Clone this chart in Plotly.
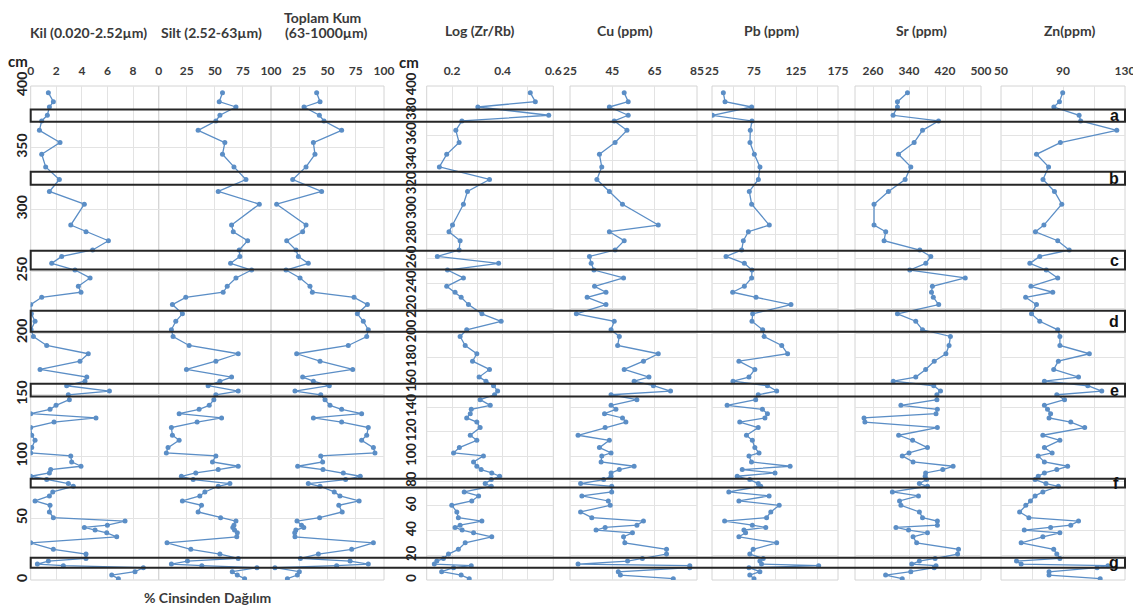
import plotly.graph_objects as go

OFF = 8                      # page body margin of the html page
W, H = 1141 - OFF, 610 - OFF


def px(x):
    return (x - OFF) / W


def py(y):
    return 1 - (y - OFF) / H


# ---------------- data ----------------
depth_cm = [394.6, 387.3, 383.0, 376.3, 371.7, 364.1, 354.2, 344.7, 334.5, 324.3,
            314.6, 304.3, 287.4, 282.0, 274.7, 267.2, 262.0, 256.4, 251.0, 244.6,
            237.8, 233.0, 228.9, 223.0, 215.5, 209.5, 202.6,
            197.2, 189.9, 183.2, 177.2, 170.5, 164.3, 161.0, 157.3, 153.0, 150.0,
            146.0, 141.4, 138.2, 134.7, 131.2, 127.9, 123.4, 117.2, 113.1, 107.2,
            102.9, 100.5, 95.6, 92.1, 89.4, 86.7, 84.0, 81.3, 78.1, 75.9,
            71.3, 68.1, 64.0, 60.5, 55.1, 50.5, 47.7, 44.4, 42.6, 40.4,
            38.2, 35.0, 30.1, 24.8, 21.0, 17.5, 15.3, 12.9, 11.6, 10.0,
            6.7, 4.0, 1.1]

kil = [1.38, 1.77, 1.46, 1.30, 0.86, 0.68, 2.29, 0.86, 1.17, 2.24,
       1.46, 4.19, 3.13, 4.32, 6.07, 4.84, 2.42, 1.64, 3.46, 4.64,
       3.72, 3.93, 0.86, 0.0, 0.05, 0.34, 0.03,
       0.21, 1.25, 4.5, 3.85, 0.73, 4.38, 4.24, 2.81, 6.15, 2.94,
       3.02, 1.98, 1.51, 0.0, 5.1, 1.82, 0.0, 0.08, 0.34, 0.08,
       0.0, 3.13, 3.2, 3.93, 1.56, 1.46, 0.0, 1.25, 2.94, 3.33,
       1.72, 1.46, 0.34, 1.51, 1.46, 1.77, 7.37, 5.99, 4.19, 5.03,
       5.94, 6.72, 0.0, 1.77, 4.32, 4.32, 1.38, 0.52, 2.55, 8.8,
       8.15, 6.33, 6.85]

silt = [56.8, 53.9, 68.8, 54.5, 50.9, 35.1, 58.9, 56.8, 67.0, 77.7,
        53.0, 89.6, 64.9, 66.4, 79.2, 71.7, 72.3, 64.0, 82.7, 68.8,
        61.0, 57.4, 24.1, 12.2, 21.1, 15.2, 11.3,
        12.8, 27.1, 70.8, 50.9, 24.7, 64.9, 54.5, 44.0, 70.8, 50.9,
        49.1, 45.0, 36.0, 18.2, 56.0, 34.2, 11.3, 12.2, 18.2, 8.3,
        6.8, 50.9, 47.9, 70.8, 53.0, 33.0, 20.2, 30.7, 63.4, 53.0,
        41.1, 36.6, 21.1, 38.1, 35.1, 55.1, 68.8, 67.0, 66.0, 67.5,
        70.0, 69.5, 7.4, 28.6, 54.5, 70.8, 25.6, 11.3, 38.4, 87.5,
        65.5, 70.0, 76.5]

toplam_kum = [40.4, 43.4, 29.2, 42.8, 46.9, 62.5, 37.5, 38.9, 31.0, 19.2,
              44.8, 5.0, 31.0, 28.0, 13.9, 22.1, 24.2, 33.0, 13.3, 25.7,
              34.5, 36.6, 73.5, 85.3, 76.4, 81.7, 86.1,
              84.7, 68.4, 22.7, 43.4, 72.3, 28.0, 37.5, 51.6, 21.2, 44.0,
              47.8, 52.2, 62.5, 80.2, 37.5, 62.5, 86.1, 84.7, 80.2, 90.6,
              92.0, 44.0, 45.7, 23.6, 46.0, 64.0, 79.0, 66.0, 33.0, 43.4,
              56.0, 61.0, 78.0, 60.0, 63.0, 43.0, 23.0, 27.0, 29.0, 22.0,
              21.0, 21.2, 90.6, 71.4, 41.9, 26.0, 70.0, 86.1, 58.1, 3.5,
              25.1, 23.3, 14.5]

log_zr_rb = [0.509, 0.529, 0.302, 0.582, 0.239, 0.215, 0.228, 0.179, 0.150, 0.348,
             0.261, 0.245, 0.202, 0.188, 0.232, 0.228, 0.142, 0.384, 0.182, 0.245,
             0.179, 0.212, 0.236, 0.265, 0.318, 0.394, 0.258,
             0.232, 0.252, 0.298, 0.281, 0.348, 0.307, 0.334, 0.364, 0.380, 0.368,
             0.311, 0.351, 0.276, 0.272, 0.258, 0.298, 0.311, 0.272, 0.298, 0.229,
             0.206, 0.324, 0.285, 0.298, 0.315, 0.357, 0.388, 0.355, 0.331, 0.355,
             0.248, 0.305, 0.278, 0.199, 0.219, 0.225, 0.318, 0.232, 0.212, 0.240,
             0.285, 0.357, 0.252, 0.225, 0.186, 0.166, 0.140, 0.130, 0.276, 0.206,
             0.159, 0.236, 0.268]

cu = [50.6, 52.5, 43.6, 52.5, 45.9, 51.9, 46.3, 38.9, 40.0, 37.7,
      43.6, 49.8, 66.7, 43.6, 50.6, 46.3, 34.2, 35.0, 36.3, 50.3,
      36.6, 42.0, 33.1, 42.0, 28.0, 45.9, 44.4,
      48.3, 47.5, 66.7, 59.7, 50.6, 62.3, 55.3, 64.4, 72.5, 44.4,
      56.6, 44.4, 46.7, 41.3, 49.8, 51.4, 41.6, 28.8, 43.6, 38.9,
      44.4, 40.0, 39.7, 55.3, 48.3, 44.4, 44.4, 40.9, 30.0, 44.7,
      44.7, 30.6, 43.1, 44.0, 30.0, 35.3, 59.7, 56.6, 41.6, 37.3,
      54.5, 50.3, 50.9, 70.6, 70.6, 59.2, 52.2, 28.8, 81.6, 81.6,
      47.8, 48.8, 73.8]

pb = [38.5, 40.5, 72.2, 25.5, 72.6, 70.6, 70.2, 75.4, 82.1, 80.2,
      69.4, 72.2, 93.2, 68.3, 62.3, 60.3, 41.7, 63.5, 72.6, 72.2,
      63.5, 49.6, 77.4, 119.0, 73.4, 72.6, 85.3,
      87, 108, 115, 57, 76, 69, 50, 91, 102, 80,
      77, 43, 85, 91, 88, 58, 80, 66, 73, 76,
      81, 69, 72, 118, 61, 100, 55, 70, 80, 83,
      45, 93, 57, 105, 95, 90, 40, 73, 89, 63,
      65, 57, 102, 74, 70, 86, 82, 84, 152, 69,
      82, 70, 75]

sr = [336.6, 314.3, 314.3, 304.6, 405.6, 370.0, 351.4, 316.5, 344.0, 331.4,
      294.3, 262.3, 262.3, 288.3, 284.6, 364.0, 388.5, 377.4, 341.8, 465.0,
      392.0, 390.0, 394.0, 406.0, 314.3, 355.0, 370.0,
      432, 429, 422, 396, 377, 355, 305, 395, 410, 402,
      402, 322, 403, 400, 240, 242, 403, 317, 348, 381,
      340, 325, 349, 438, 415, 377, 376, 379, 363, 381,
      303, 361, 319, 322, 363, 370, 403, 403, 311, 339,
      381, 349, 357, 450, 448, 398, 363, 346, 400, 396,
      344, 288, 325]

zn = [89.8, 87.7, 84.1, 100.4, 101.4, 124.7, 88.3, 72.9, 80.7, 77.1,
      84.5, 89.2, 77.7, 72.2, 86.6, 94.0, 75.0, 68.6, 79.2, 86.6,
      69.3, 83.4, 65.9, 72.9, 69.7, 75.0, 86.6,
      88, 88, 107, 87, 84, 100, 78, 106, 115, 86,
      91, 78, 80, 82, 81, 95, 104, 77, 88, 78,
      83, 74, 78, 93, 86, 78, 74, 72, 79, 87,
      77, 72, 69, 66, 62, 68, 100, 95, 82, 65,
      88, 77, 63, 84, 86, 88, 60, 63, 119, 112,
      81, 81, 114]

zone_labels = ["a", "b", "c", "d", "e", "f", "g"]
zone_bottom_cm = [371, 320, 251.5, 201, 148.5, 75, 10]
zone_top_cm = [381, 330.5, 266.5, 218, 159, 82, 18]

panel_titles = ["Kil (0.020-2.52µm)", "Silt (2.52-63µm)", "(63-1000µm)",
                "Log (Zr/Rb)", "Cu (ppm)", "Pb (ppm)", "Sr (ppm)", "Zn(ppm)"]
kum_title_top = "Toplam Kum"

# ---------------- styling / layout ----------------
LINE = "#5B8EC6"
GRID = "#e3e3e3"
BORDER = "#d4d4d4"
TXT = "#3a3a3a"
FONT = "Lato"

y_lo, y_hi = py(580), py(86)

panels = [
    dict(vals=kil, l=30.7, r=158.7, rng=[0, 10], tv=[0, 2, 4, 6, 8], minor=None, yax="y"),
    dict(vals=silt, l=158.7, r=271, rng=[0, 100], tv=[0, 25, 50, 75, 100], minor=None, yax="y"),
    dict(vals=toplam_kum, l=271, r=384, rng=[0, 100], tv=[25, 50, 75, 100], minor=None, yax="y"),
    dict(vals=log_zr_rb, l=426.7, r=553.3, rng=[0.1, 0.6], tv=[0.2, 0.4, 0.6], minor=(0.1, 0.1), yax="y2"),
    dict(vals=cu, l=570, r=697, rng=[25, 85], tv=[25, 45, 65, 85], minor=None, yax="y2"),
    dict(vals=pb, l=712, r=838, rng=[25, 175], tv=[25, 75, 125, 175], minor=(25, 25), yax="y2"),
    dict(vals=sr, l=855, r=981, rng=[220, 500], tv=[260, 340, 420, 500], minor=(220, 40), yax="y2"),
    dict(vals=zn, l=1001, r=1125, rng=[50, 130], tv=[50, 90, 130], minor=(50, 20), yax="y2"),
]
title_x = [88, 211, 326, 479, 625, 771, 921, 1069]
title_y = [33, 33, 33, 30, 30, 30, 30, 30]

fig = go.Figure()
layout = dict(
    template="none",
    width=W, height=H, margin=dict(l=0, r=0, t=0, b=0, autoexpand=False),
    paper_bgcolor="white", plot_bgcolor="white", showlegend=False,
    font=dict(family=FONT, color=TXT),
)
shapes = []
annotations = []

for i, p in enumerate(panels):
    n = "" if i == 0 else str(i + 1)
    xa = "x" + n
    fig.add_trace(go.Scatter(
        x=p["vals"], y=depth_cm, xaxis=xa, yaxis=p["yax"],
        mode="lines+markers", line=dict(color=LINE, width=1.3),
        marker=dict(color=LINE, size=5), hoverinfo="x+y"))
    ax = dict(domain=[px(p["l"]), px(p["r"])], range=p["rng"], side="top",
              anchor=p["yax"], tickmode="array", tickvals=p["tv"],
              ticktext=[f"{v:g}" for v in p["tv"]], automargin=False,
              showgrid=True, gridcolor=GRID, gridwidth=1, zeroline=False,
              showline=False, ticks="outside", ticklen=5,
              tickcolor="rgba(0,0,0,0)",
              tickfont=dict(family=FONT, size=12, color=TXT, weight="bold"))
    if p["minor"]:
        ax["minor"] = dict(tickmode="linear", tick0=p["minor"][0], dtick=p["minor"][1],
                           showgrid=True, gridcolor=GRID, ticks="")
    layout["xaxis" + n] = ax
    shapes.append(dict(type="rect", xref="paper", yref="paper",
                       x0=px(p["l"]), x1=px(p["r"]), y0=y_lo, y1=y_hi,
                       line=dict(color=BORDER, width=1), layer="below"))
    annotations.append(dict(text=panel_titles[i], xref="paper", yref="paper",
                            x=px(title_x[i]), y=py(title_y[i]), showarrow=False,
                            xanchor="center", yanchor="middle",
                            font=dict(family=FONT, size=14, color=TXT, weight="bold")))

annotations.append(dict(text=kum_title_top, xref="paper", yref="paper",
                        x=px(322), y=py(17), showarrow=False,
                        xanchor="center", yanchor="middle",
                        font=dict(family=FONT, size=14, color=TXT, weight="bold")))

layout["yaxis"] = dict(domain=[y_lo, y_hi], range=[0, 400], anchor="x", automargin=False,
                       tickmode="linear", tick0=0, dtick=50, tickangle=-90,
                       showgrid=True, gridcolor=GRID, zeroline=False, showline=False,
                       ticks="", ticklen=0,
                       tickfont=dict(family=FONT, size=14, color="#222", weight="bold"))
layout["yaxis2"] = dict(domain=[y_lo, y_hi], range=[0, 400], anchor="x4", automargin=False,
                        tickmode="linear", tick0=0, dtick=20, tickangle=-90,
                        showgrid=True, gridcolor=GRID, zeroline=False, showline=False,
                        ticks="outside", ticklen=5, tickcolor="rgba(0,0,0,0)",
                        tickfont=dict(family=FONT, size=13, color="#222", weight="bold"))

# zone boxes a-g
for lab, lo, hi in zip(zone_labels, zone_bottom_cm, zone_top_cm):
    shapes.append(dict(type="rect", xref="paper", yref="y",
                       x0=px(30.7), x1=px(1125), y0=lo, y1=hi,
                       line=dict(color="#262626", width=2), layer="above"))
    annotations.append(dict(text=lab, xref="paper", yref="y", x=px(1121), y=(lo + hi) / 2,
                            xanchor="right", yanchor="middle", showarrow=False,
                            font=dict(family="Liberation Sans", size=16, color="#111",
                                      weight="bold")))

annotations += [
    dict(text="cm", xref="paper", yref="paper", x=px(18), y=py(61), showarrow=False,
         xanchor="center", yanchor="middle",
         font=dict(family=FONT, size=15, color="#222", weight="bold")),
    dict(text="cm", xref="paper", yref="paper", x=px(409), y=py(62), showarrow=False,
         xanchor="center", yanchor="middle",
         font=dict(family=FONT, size=15, color="#222", weight="bold")),
    dict(text="% Cinsinden Dağılım", xref="paper", yref="paper", x=px(207), y=py(597),
         xanchor="center", yanchor="middle",
         showarrow=False, font=dict(family=FONT, size=14, color=TXT, weight="bold")),
]

layout["shapes"] = shapes
layout["annotations"] = annotations
fig.update_layout(**layout)
fig.write_html("out.html")
